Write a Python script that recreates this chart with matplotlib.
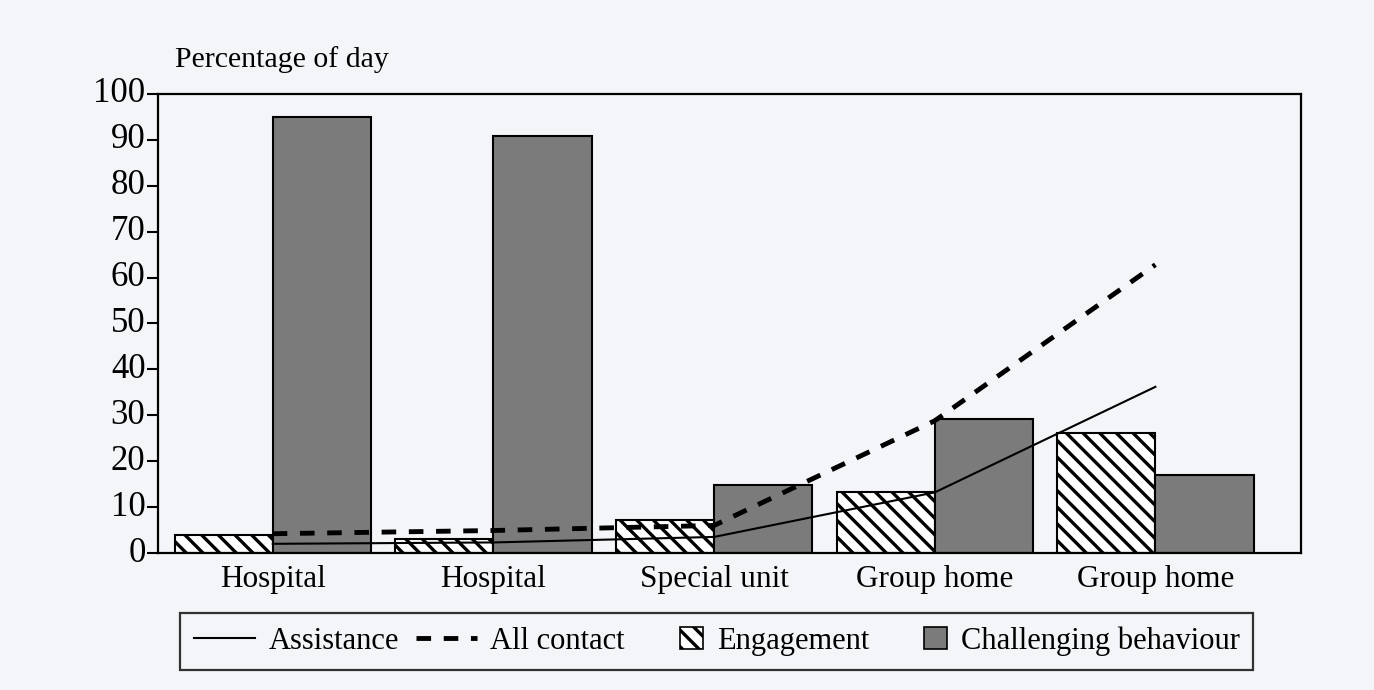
import matplotlib
matplotlib.use("Agg")
import matplotlib.pyplot as plt
import matplotlib.patches as mpatches
from matplotlib.lines import Line2D
from matplotlib.legend_handler import HandlerPatch
from matplotlib.transforms import ScaledTranslation
import numpy as np

categories = ["Hospital", "Hospital", "Special unit", "Group home", "Group home"]
engagement = [3.9, 3.1, 7.2, 13.2, 26.1]
challenging = [95.0, 90.8, 14.9, 29.2, 17.1]
assistance = [2.0, 2.3, 3.5, 13.2, 36.2]
all_contact = [4.2, 4.9, 6.0, 28.8, 62.8]
yticks = [0, 10, 20, 30, 40, 50, 60, 70, 80, 90, 100]

plt.rcParams['font.family'] = ['Liberation Serif', 'DejaVu Serif']
plt.rcParams['hatch.linewidth'] = 2.4
plt.rcParams['hatch.color'] = 'black'

bg = '#f3f5f8'
fig = plt.figure(figsize=(13.74, 6.9), dpi=100, facecolor=bg)
ax = fig.add_axes([158/1374, 1-553/690, (1301-158)/1374, (553-94)/690])
ax.set_facecolor(bg)

x = np.arange(len(categories))
w = 0.445
ax.bar(x - w/2, engagement, width=w, facecolor='white', edgecolor='black',
       hatch='\\\\', linewidth=1.5, zorder=2)
ax.bar(x + w/2, challenging, width=w, facecolor='#7b7b7b', edgecolor='black',
       linewidth=1.5, zorder=2)
ax.plot(x, assistance, color='black', lw=1.5, zorder=3)
ax.plot(x, all_contact, color='black', lw=3.5, dashes=(3.0, 2.6), zorder=3)

ax.set_xlim(-0.52, 4.66)
ax.set_ylim(0, 100)
ax.set_yticks(yticks)
ax.set_yticklabels([str(v) for v in yticks], fontsize=25)
ax.set_xticks(x)
ax.set_xticklabels(categories, fontsize=22.5)
ax.tick_params(axis='y', direction='out', length=8, width=1.5, pad=1)
ax.tick_params(axis='x', length=0, pad=9)
for lab in ax.get_yticklabels():
    lab.set_transform(lab.get_transform() + ScaledTranslation(0, 0.04, fig.dpi_scale_trans))
for s in ax.spines.values():
    s.set_linewidth(1.6)

fig.text(175/1374, 1-60/690, "Percentage of day", fontsize=21.5, va='center', ha='left')

class SquareHandler(HandlerPatch):
    def create_artists(self, legend, orig_handle, xdescent, ydescent, width, height, fontsize, trans):
        size = height * 1.05
        p = mpatches.Rectangle((width - size, (height - size) / 2 - ydescent), size, size,
                               facecolor=orig_handle.get_facecolor(), edgecolor='black',
                               hatch=orig_handle.get_hatch(), lw=1.2, transform=trans)
        return [p]

h1 = Line2D([], [], color='black', lw=1.5)
h2 = Line2D([], [], color='black', lw=3.5, dashes=(3.0, 2.6))
h3 = mpatches.Patch(facecolor='white', edgecolor='black', hatch='\\\\')
h4 = mpatches.Patch(facecolor='#7b7b7b', edgecolor='black')
leg = fig.legend([h1, h2, h3, h4], ["Assistance", "All contact", "Engagement", "Challenging behaviour"],
                 loc='center', bbox_to_anchor=((178+1255)/2/1374, 1-641/690), ncol=4,
                 fontsize=22, frameon=True, fancybox=False, handlelength=2.0,
                 handletextpad=0.45, columnspacing=0.55, borderpad=0.45,
                 handler_map={mpatches.Patch: SquareHandler()})
leg.get_frame().set_edgecolor('black')
leg.get_frame().set_linewidth(1.6)
leg.get_frame().set_facecolor(bg)

fig.savefig("out.png", dpi=100, facecolor=bg)
